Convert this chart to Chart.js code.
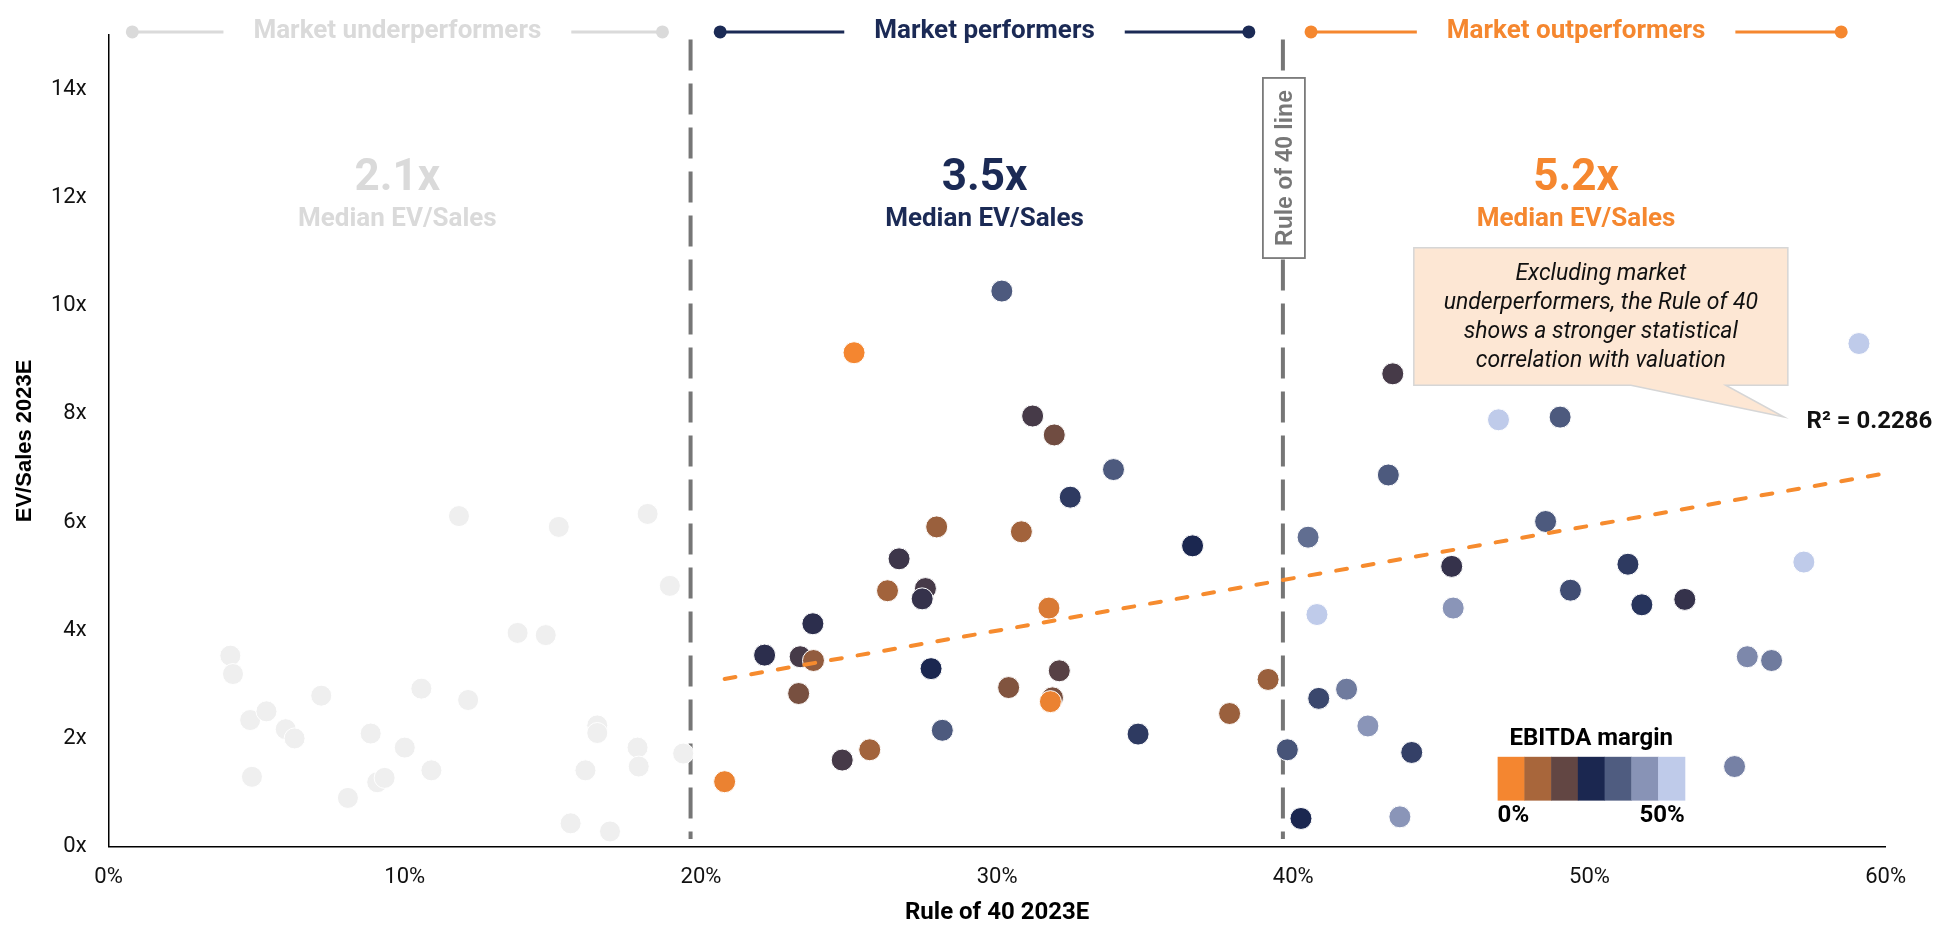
<!DOCTYPE html>
<html>
<head>
<meta charset="utf-8">
<script src="https://cdn.jsdelivr.net/npm/chart.js@4.4.0/dist/chart.umd.min.js"></script>
<style>
    html, body { margin: 0; padding: 0; background: #fff; }
    #wrap { width: 1935px; height: 925px; }
</style>
</head>
<body>
<div id="wrap"><canvas id="rule40-chart" width="1935" height="925"></canvas></div>
<script>
// market underperformers (Rule of 40 below 20%)
const underX = [4.11, 4.2, 11.83, 15.2, 18.2, 18.95, 13.81, 14.76, 10.56, 7.18, 12.14, 4.78, 5.33, 5.98, 6.28,
    8.85, 10.0, 16.5, 16.5, 17.86, 19.4, 4.84, 10.9, 9.07, 9.32, 8.08, 16.1, 17.9, 15.6, 16.93];
const underY = [3.53, 3.19, 6.11, 5.91, 6.15, 4.82, 3.95, 3.91, 2.92, 2.79, 2.71, 2.34, 2.5, 2.17, 2.0,
    2.09, 1.83, 2.24, 2.1, 1.83, 1.72, 1.29, 1.41, 1.19, 1.27, 0.9, 1.41, 1.48, 0.43, 0.28];

// performers and outperformers, coloured by EBITDA margin (%)
const compX = [20.8, 22.15, 23.35, 23.8, 23.78, 23.3, 24.77, 25.7, 25.17, 26.3, 26.69, 27.58, 27.47, 27.96,
    27.77, 28.15, 30.16, 30.39, 30.82, 31.2, 31.93, 31.75, 32.1, 31.87, 31.8, 32.47, 33.93, 34.76, 36.6,
    37.85, 39.15, 39.8, 40.26, 40.5, 40.8, 40.86, 41.8, 42.52, 43.36, 43.21, 43.6, 44.0, 45.35, 45.4,
    46.93, 48.52, 49.01, 49.36, 51.3, 51.77, 53.22, 54.9, 55.33, 56.15, 57.24, 59.1];
const compY = [1.2, 3.54, 3.51, 3.44, 4.12, 2.83, 1.6, 1.79, 9.13, 4.73, 5.32, 4.77, 4.58, 5.91,
    3.29, 2.15, 10.27, 2.94, 5.82, 7.96, 7.61, 4.41, 3.25, 2.75, 2.68, 6.46, 6.97, 2.08, 5.56,
    2.46, 3.09, 1.79, 0.52, 5.72, 4.29, 2.74, 2.91, 2.23, 8.74, 6.87, 0.55, 1.74, 5.18, 4.41,
    7.89, 6.01, 7.94, 4.74, 5.22, 4.47, 4.57, 1.48, 3.51, 3.44, 5.26, 9.3];
const compMargin = [1, 23, 20, 11, 23, 14, 20, 9, 0, 9, 21, 20, 22, 10,
    25, 33, 33, 13, 9, 20, 15, 3, 18, 14, 1, 28, 33, 28, 25,
    10, 10, 32, 25, 36, 50, 30, 38, 42, 20, 33, 42, 29, 22, 42,
    50, 33, 33, 31, 28, 27, 22, 39, 40, 38, 50, 50];

// EBITDA margin colour scale, 0% to 50%
const marginColors = ['#f48630', '#a8663b', '#624643', '#1b2750', '#4f5c80', '#8893b6', '#bfcbea'];
const marginLabels = ['0%', '50%'];

// linear trend excluding underperformers
const trendX = [20.8, 60];
const trendY = [3.1, 6.9];
const trendLabel = 'R\u00b2 = 0.2286';

// segments
const groupLabels = ['Market underperformers', 'Market performers', 'Market outperformers'];
const groupFrom = [0.8, 20.65, 40.6];
const groupTo = [18.7, 38.5, 58.5];
const groupMedians = ['2.1x', '3.5x', '5.2x'];
const groupColors = ['#dadada', '#1b2a55', '#f5872f'];
const thresholds = [19.65, 39.65];

const calloutLines = ['Excluding market', 'underperformers, the Rule of 40',
    'shows a stronger statistical', 'correlation with valuation'];

function marginColor(m) {
    const t = Math.max(0, Math.min(6, m / 50 * 6));
    const i = Math.min(5, Math.floor(t));
    const f = t - i;
    const a = marginColors[i], b = marginColors[i + 1];
    const c = [1, 3, 5].map(k => {
        const va = parseInt(a.substr(k, 2), 16), vb = parseInt(b.substr(k, 2), 16);
        return Math.round(va + (vb - va) * f);
    });
    return `rgb(${c[0]}, ${c[1]}, ${c[2]})`;
}

const rulePlugin = {
    id: 'rulePlugin',
    beforeDatasetsDraw(chart) {
        const {ctx, scales: {x, y}} = chart;
        ctx.save();
        ctx.strokeStyle = '#767676';
        ctx.lineWidth = 4;
        ctx.setLineDash([31, 13]);
        thresholds.forEach(t => {
            const px = x.getPixelForValue(t);
            ctx.beginPath();
            ctx.moveTo(px, y.getPixelForValue(14.92));
            ctx.lineTo(px, y.getPixelForValue(0.14));
            ctx.stroke();
        });
        ctx.restore();
    },
    afterDraw(chart) {
        const {ctx, scales: {x, y}} = chart;
        ctx.save();

        // segment headers and medians
        groupLabels.forEach((label, i) => {
            const x1 = x.getPixelForValue(groupFrom[i]);
            const x2 = x.getPixelForValue(groupTo[i]);
            const cx = (x1 + x2) / 2;
            const hy = y.getPixelForValue(15.06);
            ctx.font = 'bold 26px Roboto';
            const w = ctx.measureText(label).width;
            ctx.strokeStyle = groupColors[i];
            ctx.fillStyle = groupColors[i];
            ctx.lineWidth = 3;
            ctx.beginPath();
            ctx.moveTo(x1, hy); ctx.lineTo(cx - w / 2 - 30, hy);
            ctx.moveTo(cx + w / 2 + 30, hy); ctx.lineTo(x2, hy);
            ctx.stroke();
            [x1, x2].forEach(px => {
                ctx.beginPath();
                ctx.arc(px, hy, 6.5, 0, Math.PI * 2);
                ctx.fill();
            });
            ctx.textAlign = 'center';
            ctx.textBaseline = 'middle';
            ctx.fillText(label, cx, hy);
            ctx.font = 'bold 44px Roboto';
            ctx.fillText(groupMedians[i], cx, y.getPixelForValue(12.35));
            ctx.font = 'bold 26px Roboto';
            ctx.fillText('Median EV/Sales', cx, y.getPixelForValue(11.6));
        });

        // rule of 40 label box
        const rx = x.getPixelForValue(thresholds[1]);
        const bt = y.getPixelForValue(14.21), bb = y.getPixelForValue(10.88);
        ctx.fillStyle = '#fff';
        ctx.fillRect(rx - 20, bt, 42, bb - bt);
        ctx.strokeStyle = '#7a7a7a';
        ctx.lineWidth = 1.8;
        ctx.strokeRect(rx - 20, bt, 42, bb - bt);
        ctx.save();
        ctx.translate(rx + 1.5, (bt + bb) / 2);
        ctx.rotate(-Math.PI / 2);
        ctx.fillStyle = '#777';
        ctx.font = 'bold 23px "Liberation Sans"';
        ctx.textAlign = 'center';
        ctx.textBaseline = 'middle';
        ctx.fillText('Rule of 40 line', 0, 1);
        ctx.restore();

        // callout
        const l = x.getPixelForValue(44.07), r = x.getPixelForValue(56.7);
        const t = y.getPixelForValue(11.07), b = y.getPixelForValue(8.53);
        ctx.beginPath();
        ctx.moveTo(l, t);
        ctx.lineTo(r, t);
        ctx.lineTo(r, b);
        ctx.lineTo(x.getPixelForValue(54.6), b);
        ctx.lineTo(x.getPixelForValue(56.57), y.getPixelForValue(7.94));
        ctx.lineTo(x.getPixelForValue(51.4), b);
        ctx.lineTo(l, b);
        ctx.closePath();
        ctx.fillStyle = '#fde7d4';
        ctx.fill();
        ctx.strokeStyle = '#d6d6d6';
        ctx.lineWidth = 1.5;
        ctx.stroke();
        ctx.fillStyle = '#111';
        ctx.font = 'italic 23px Roboto';
        ctx.textAlign = 'center';
        ctx.textBaseline = 'middle';
        calloutLines.forEach((line, i) => {
            ctx.fillText(line, (l + r) / 2, t + 26 + i * 29);
        });

        // R squared
        ctx.font = 'bold 24px Roboto';
        ctx.textAlign = 'left';
        ctx.fillText(trendLabel, x.getPixelForValue(57.33), y.getPixelForValue(7.85));

        // EBITDA margin legend
        const lx0 = x.getPixelForValue(46.9), lx1 = x.getPixelForValue(53.22);
        const ly0 = y.getPixelForValue(1.66), ly1 = y.getPixelForValue(0.85);
        const cw = (lx1 - lx0) / marginColors.length;
        marginColors.forEach((c, i) => {
            ctx.fillStyle = c;
            ctx.fillRect(lx0 + i * cw, ly0, cw + 0.5, ly1 - ly0);
        });
        ctx.fillStyle = '#000';
        ctx.font = 'bold 24px Roboto';
        ctx.textAlign = 'center';
        ctx.fillText('EBITDA margin', (lx0 + lx1) / 2, y.getPixelForValue(1.99));
        ctx.textAlign = 'left';
        ctx.fillText(marginLabels[0], lx0, y.getPixelForValue(0.57));
        ctx.textAlign = 'right';
        ctx.fillText(marginLabels[1], lx1, y.getPixelForValue(0.57));

        ctx.restore();
    }
};

Chart.defaults.font.family = 'Roboto';
Chart.defaults.color = '#111';

const chartCanvas = document.getElementById('rule40-chart');
const rule40Chart = new Chart(chartCanvas, {
    type: 'scatter',
    data: {
        datasets: [{
            label: 'Trend',
            type: 'line',
            data: trendX.map((v, i) => ({x: v, y: trendY[i]})),
            borderColor: '#f68b2e',
            borderWidth: 4,
            borderDash: [11, 16],
            borderCapStyle: 'round',
            pointRadius: 0,
            fill: false,
            order: 0,
        }, {
            label: 'Performers',
            data: compX.map((v, i) => ({x: v, y: compY[i]})),
            backgroundColor: compMargin.map(marginColor),
            borderColor: '#fff',
            borderWidth: 1,
            pointRadius: 11,
            order: 1,
        }, {
            label: 'Underperformers',
            data: underX.map((v, i) => ({x: v, y: underY[i]})),
            backgroundColor: '#efefef',
            borderColor: '#fff',
            borderWidth: 1,
            pointRadius: 10.5,
            order: 2,
        }],
    },
    options: {
        responsive: false,
        animation: false,
        layout: {padding: {top: 27.6, right: 49.4, left: 0, bottom: 0}},
        plugins: {
            legend: {display: false},
            tooltip: {enabled: false},
        },
        scales: {
            x: {
                type: 'linear',
                min: 0,
                max: 60,
                ticks: {
                    stepSize: 10,
                    padding: 18,
                    font: {size: 22},
                    color: '#111',
                    callback: v => v + '%',
                },
                grid: {display: false, drawTicks: false},
                border: {display: true, color: '#000', width: 1.5},
                title: {
                    display: true,
                    text: 'Rule of 40 2023E',
                    font: {size: 24, weight: 'bold', lineHeight: 1},
                    color: '#000',
                    padding: {top: 0, bottom: 0},
                },
                afterFit(scale) { scale.height = 78.4; },
            },
            y: {
                type: 'linear',
                min: 0,
                max: 15,
                ticks: {
                    stepSize: 2,
                    includeBounds: false,
                    padding: 22,
                    font: {size: 22},
                    color: '#111',
                    callback: v => v + 'x',
                },
                grid: {display: false, drawTicks: false},
                border: {display: true, color: '#000', width: 1.5},
                title: {
                    display: true,
                    text: 'EV/Sales 2023E',
                    font: {family: '"Liberation Sans", Arial', size: 22, weight: 'bold'},
                    color: '#000',
                    padding: {top: 12, bottom: 0},
                },
                afterFit(scale) { scale.width = 108.6; },
            },
        },
    },
    plugins: [rulePlugin],
});
</script>
</body>
</html>
